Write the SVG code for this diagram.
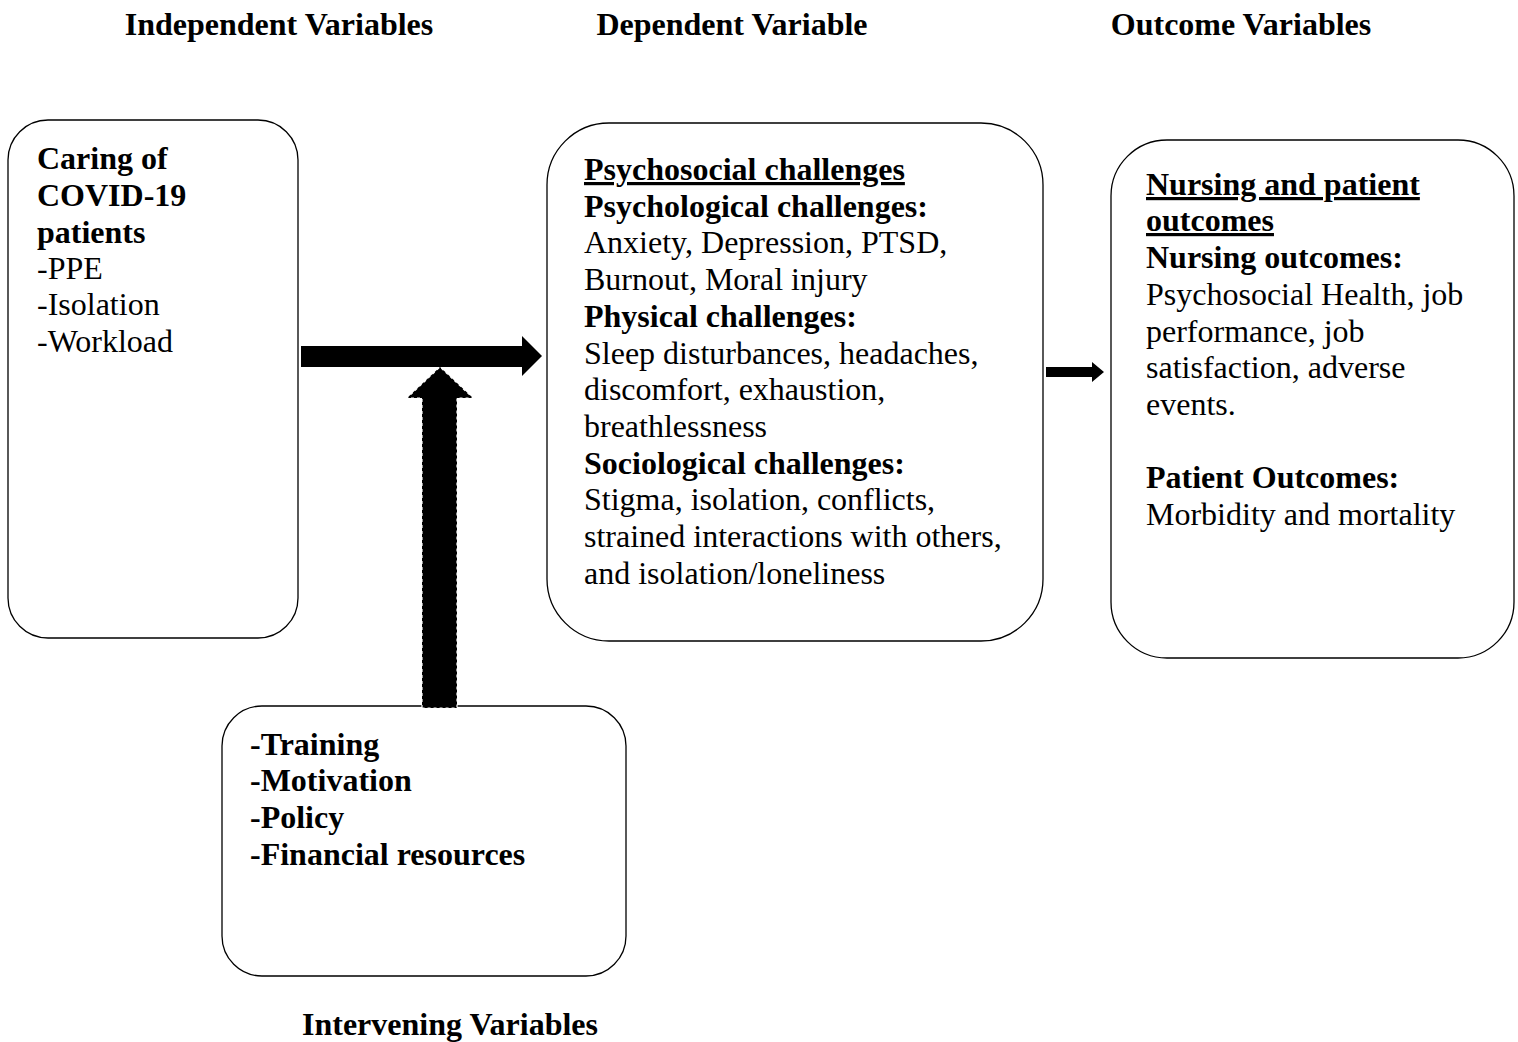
<svg xmlns="http://www.w3.org/2000/svg" width="1518" height="1042" viewBox="0 0 1518 1042">
<style>
text{font-family:"Liberation Serif","Times New Roman",serif;font-size:32px;fill:#000}
.b{font-weight:bold}
.u{text-decoration:underline}
.h{font-weight:bold;text-anchor:middle}
.box{fill:#fff;stroke:#000;stroke-width:1.3}
</style>
<rect width="1518" height="1042" fill="#fff"/>
<g id="headers">
<text class="h" x="279" y="35">Independent Variables</text>
<text class="h" x="732" y="35">Dependent Variable</text>
<text class="h" x="1241" y="35">Outcome Variables</text>
<text class="h" x="450" y="1035">Intervening Variables</text>
</g>
<g id="independent">
<rect class="box" x="8" y="120" width="290" height="518" rx="40"/>
<text class="b" x="37" y="169">Caring of</text>
<text class="b" x="37" y="206">COVID-19</text>
<text class="b" x="37" y="243">patients</text>
<text x="37" y="279">-PPE</text>
<text x="37" y="315">-Isolation</text>
<text x="37" y="352">-Workload</text>
</g>
<g id="dependent">
<rect class="box" x="547" y="123" width="496" height="518" rx="62"/>
<text class="b u" x="584" y="180">Psychosocial challenges</text>
<text class="b" x="584" y="217">Psychological challenges:</text>
<text x="584" y="253">Anxiety, Depression, PTSD,</text>
<text x="584" y="290">Burnout, Moral injury</text>
<text class="b" x="584" y="327">Physical challenges:</text>
<text x="584" y="364">Sleep disturbances, headaches,</text>
<text x="584" y="400">discomfort, exhaustion,</text>
<text x="584" y="437">breathlessness</text>
<text class="b" x="584" y="474">Sociological challenges:</text>
<text x="584" y="510">Stigma, isolation, conflicts,</text>
<text x="584" y="547">strained interactions with others,</text>
<text x="584" y="584">and isolation/loneliness</text>
</g>
<g id="outcome">
<rect class="box" x="1111" y="140" width="403" height="518" rx="56"/>
<text class="b u" x="1146" y="195">Nursing and patient</text>
<text class="b u" x="1146" y="231">outcomes</text>
<text class="b" x="1146" y="268">Nursing outcomes:</text>
<text x="1146" y="305">Psychosocial Health, job</text>
<text x="1146" y="342">performance, job</text>
<text x="1146" y="378">satisfaction, adverse</text>
<text x="1146" y="415">events.</text>
<text class="b" x="1146" y="488">Patient Outcomes:</text>
<text x="1146" y="525">Morbidity and mortality</text>
</g>
<g id="intervening">
<rect class="box" x="222" y="706" width="404" height="270" rx="40"/>
<text class="b" x="250" y="755">-Training</text>
<text class="b" x="250" y="791">-Motivation</text>
<text class="b" x="250" y="828">-Policy</text>
<text class="b" x="250" y="865">-Financial resources</text>
</g>
<g id="connectors">
<polygon points="301,346 522,346 522,336 542,356 522,376 522,367 301,367" fill="#000"/>
<polygon points="422,708 422,398 407,398 440,367 473,398 457,398 457,708" fill="#000" stroke="#fff" stroke-width="1.2" stroke-dasharray="3,3"/>
<polygon points="1046,367 1092,367 1092,362 1104,372 1092,382 1092,377 1046,377" fill="#000"/>
</g>
</svg>
